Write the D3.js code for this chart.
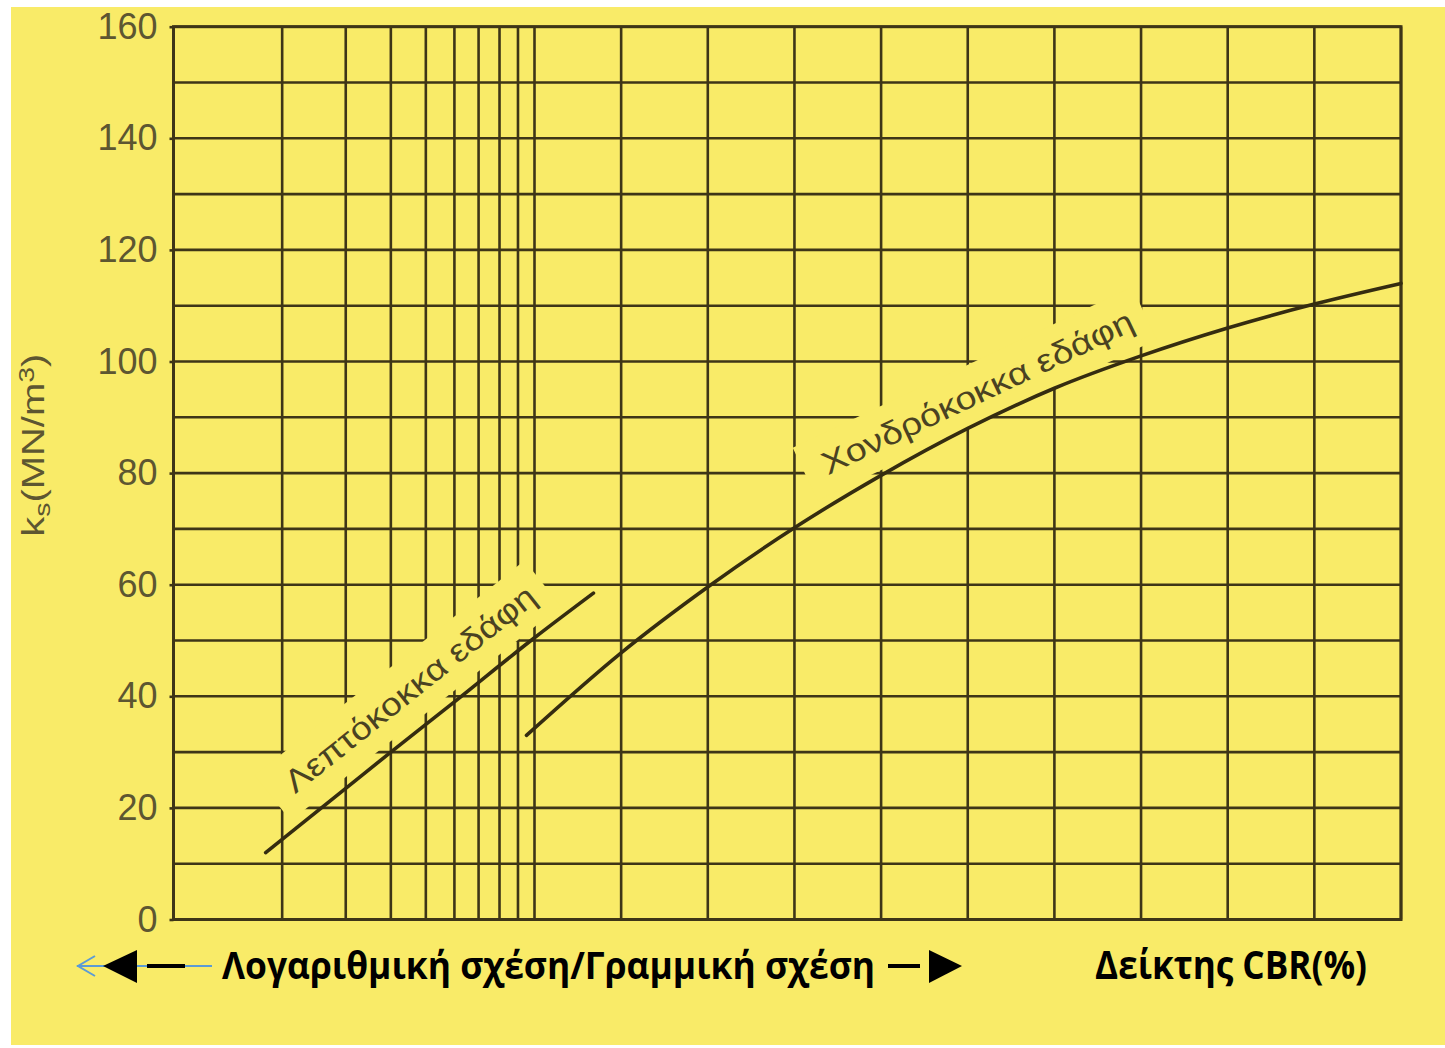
<!DOCTYPE html>
<html>
<head>
<meta charset="utf-8">
<script src="https://cdn.jsdelivr.net/npm/d3@7"></script>
<style>
  body { margin: 0; background: #ffffff; }
  svg { display: block; }
</style>
</head>
<body>
<svg id="chart" width="1445" height="1048"></svg>
<script>
// Modulus of subgrade reaction k_s against CBR:
// logarithmic CBR axis from 1 to 10, linear from 10 to 60.
const kTicks = [0, 20, 40, 60, 80, 100, 120, 140, 160];
const kGrid = d3.range(0, 161, 10);
const cbrLogGrid = [1, 2, 3, 4, 5, 6, 7, 8, 9, 10];
const cbrLinGrid = [15, 20, 25, 30, 35, 40, 45, 50, 55, 60];

// Fine-grained soils
const fineCBR = [1.8, 3, 4, 6, 10, 13.4];
const fineK   = [12, 23.5, 30, 39, 50.5, 58.5];

// Coarse-grained soils
const coarseCBR = [9.5, 15, 20, 25, 30, 35, 40, 45, 50, 55, 60];
const coarseK   = [33, 47.8, 59.6, 70.2, 79.6, 88, 95.2, 101, 106, 110.3, 114];

// Curve captions and the CBR span each caption runs along
const captionText = ["Λεπτόκοκκα εδάφη", "Χονδρόκοκκα εδάφη"];
const captionFrom = [2.42, 27.6];
const captionTo   = [11.2, 45.4];

const svg = d3.select("#chart");
const paper = "#f9eb68";
const ink = "#3e3517";

svg.append("rect")
  .attr("x", 11).attr("y", 7)
  .attr("width", 1445 - 11).attr("height", 1045 - 7)
  .attr("fill", paper);

const plot = { left: 173.5, right: 1401, top: 26.7, bottom: 919.5 };

const xLog = d3.scaleLog().domain([1, 10]).range([plot.left, 534.5]);
const xLin = d3.scaleLinear().domain([10, 60]).range([534.5, plot.right]);
const x = c => (c <= 10 ? xLog(c) : xLin(c));
const y = d3.scaleLinear().domain([0, 160]).range([plot.bottom, plot.top]);

const gridG = svg.append("g");
const bandG = svg.append("g");
const curveG = svg.append("g");
const labelG = svg.append("g");

// grid
gridG.selectAll("line.h").data(kGrid).join("line")
  .attr("class", "h")
  .attr("x1", plot.left).attr("x2", plot.right)
  .attr("y1", d => y(d)).attr("y2", d => y(d))
  .attr("stroke", ink).attr("stroke-width", 2.6);

gridG.selectAll("line.v").data(cbrLogGrid.concat(cbrLinGrid)).join("line")
  .attr("class", "v")
  .attr("x1", d => x(d)).attr("x2", d => x(d))
  .attr("y1", plot.top).attr("y2", plot.bottom)
  .attr("stroke", ink).attr("stroke-width", 2.6);

gridG.append("rect")
  .attr("x", plot.left).attr("y", plot.top)
  .attr("width", plot.right - plot.left).attr("height", plot.bottom - plot.top)
  .attr("fill", "none").attr("stroke", ink).attr("stroke-width", 3);

// y axis
const yAxis = d3.axisLeft(y).tickValues(kTicks).tickSize(4).tickPadding(12);
const ax = svg.append("g").attr("transform", `translate(${plot.left},0)`).call(yAxis);
ax.select(".domain").remove();
ax.selectAll(".tick line").attr("stroke", ink).attr("stroke-width", 2.6);
ax.selectAll(".tick text")
  .attr("fill", "#5d5631")
  .style("font-family", "'Liberation Sans', Arial, sans-serif")
  .style("font-size", "36px");

const yTitle = svg.append("text")
  .attr("transform", `translate(44,${y(85)}) rotate(-90)`)
  .attr("text-anchor", "middle")
  .attr("textLength", 183)
  .attr("lengthAdjust", "spacingAndGlyphs")
  .attr("fill", "#5d5631")
  .style("font-family", "'Liberation Sans', Arial, sans-serif")
  .style("font-size", "31px");
yTitle.append("tspan").text("k");
yTitle.append("tspan").text("s").attr("baseline-shift", "-25%").style("font-size", "22px");
yTitle.append("tspan").text("(MN/m");
yTitle.append("tspan").text("3").attr("baseline-shift", "45%").style("font-size", "22px");
yTitle.append("tspan").text(")");

// curves
const line = d3.line().x(d => x(d[0])).y(d => y(d[1])).curve(d3.curveMonotoneX);
const fine = d3.zip(fineCBR, fineK);
const coarse = d3.zip(coarseCBR, coarseK);

const paths = curveG.selectAll("path").data([fine, coarse]).join("path")
  .attr("d", line)
  .attr("fill", "none")
  .attr("stroke", "#352c10")
  .attr("stroke-width", 3.6)
  .attr("stroke-linecap", "round");

// point on a path at a given horizontal pixel position
function pointAtX(node, px) {
  let lo = 0, hi = node.getTotalLength();
  for (let i = 0; i < 40; i++) {
    const mid = (lo + hi) / 2;
    if (node.getPointAtLength(mid).x < px) lo = mid; else hi = mid;
  }
  return node.getPointAtLength((lo + hi) / 2);
}

const baselineGap = 27;
paths.each(function (_, i) {
  const p0 = pointAtX(this, x(captionFrom[i]));
  const p1 = pointAtX(this, x(captionTo[i]));
  const ang = Math.atan2(p1.y - p0.y, p1.x - p0.x) * 180 / Math.PI;
  const len = Math.hypot(p1.x - p0.x, p1.y - p0.y);

  // cleared strip of the grid behind the caption
  bandG.append("rect")
    .attr("transform", `translate(${p0.x},${p0.y}) rotate(${ang})`)
    .attr("x", -20).attr("y", -baselineGap - 40)
    .attr("width", len + 34).attr("height", baselineGap + 40 - 9)
    .attr("fill", paper);

  labelG.append("text")
    .attr("transform", `translate(${p0.x},${p0.y}) rotate(${ang})`)
    .attr("x", 0).attr("y", -baselineGap)
    .attr("textLength", len)
    .attr("lengthAdjust", "spacingAndGlyphs")
    .attr("fill", "#4a4222")
    .style("font-family", "'Liberation Sans', Arial, sans-serif")
    .style("font-size", "32px")
    .text(captionText[i]);
});

// bottom annotation: scale type arrows and axis name
const ann = svg.append("g");
const ay = 966;
ann.append("line").attr("x1", 77).attr("x2", 212).attr("y1", ay).attr("y2", ay)
  .attr("stroke", "#5b9bd5").attr("stroke-width", 2);
ann.append("polyline").attr("points", `95,${ay - 10} 78,${ay} 95,${ay + 10}`)
  .attr("fill", "none").attr("stroke", "#5b9bd5").attr("stroke-width", 2);
ann.append("polygon").attr("points", `103,${ay} 137,${ay - 16} 137,${ay + 17}`).attr("fill", "#000");
ann.append("line").attr("x1", 147).attr("x2", 185).attr("y1", ay).attr("y2", ay)
  .attr("stroke", "#000").attr("stroke-width", 4);
ann.append("text")
  .attr("x", 222).attr("y", ay + 13)
  .attr("textLength", 653).attr("lengthAdjust", "spacingAndGlyphs")
  .attr("fill", "#000")
  .style("font-family", "'Open Sans', 'Noto Sans', sans-serif")
  .style("font-weight", "bold").style("font-size", "38px")
  .text("Λογαριθμική σχέση/Γραμμική σχέση");
ann.append("line").attr("x1", 888).attr("x2", 920).attr("y1", ay).attr("y2", ay)
  .attr("stroke", "#000").attr("stroke-width", 4);
ann.append("polygon").attr("points", `929,${ay - 16} 929,${ay + 17} 962,${ay}`).attr("fill", "#000");
ann.append("text")
  .attr("x", 1095).attr("y", ay + 13)
  .attr("textLength", 272).attr("lengthAdjust", "spacingAndGlyphs")
  .attr("fill", "#000")
  .style("font-family", "'Open Sans', 'Noto Sans', sans-serif")
  .style("font-weight", "bold").style("font-size", "40px")
  .text("Δείκτης CBR(%)");
</script>
</body>
</html>
